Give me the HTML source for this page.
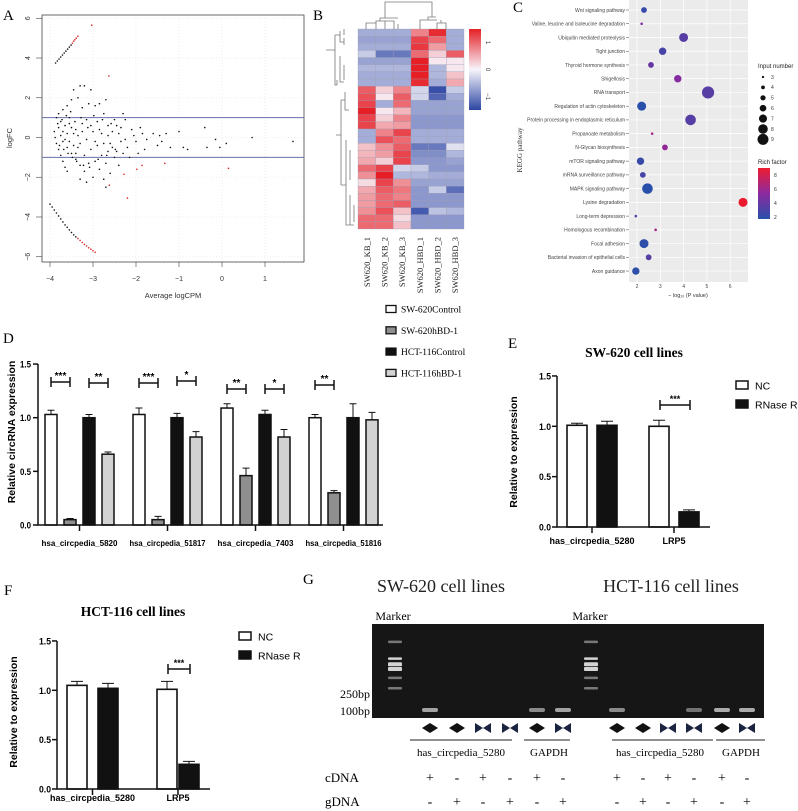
<!DOCTYPE html>
<html><head><meta charset="utf-8"><style>
html,body{margin:0;padding:0;background:#fff;}
svg{display:block;font-family:"Liberation Sans",Arial,sans-serif;}
.serif{font-family:"Liberation Serif","Times New Roman",serif;}
</style></head><body>
<svg id="fig" width="798" height="811" viewBox="0 0 798 811" xmlns="http://www.w3.org/2000/svg">
<g id="gA"></g>
<g id="gB"></g>
<g id="gC"></g>
<g id="gD"></g>
<g id="gE"></g>
<g id="gF"></g>
<g id="gG"></g>
</svg>
<script>
// ---------- Panel A data ----------
const maX = [-3.87,-3.83,-3.79,-3.75,-3.71,-3.67,-3.63,-3.59,-3.55,-3.51,-3.48,-3.45,-3.42,-3.39,-3.35,-3.03,-2.63,
-4.0,-3.95,-3.9,-3.85,-3.8,-3.75,-3.7,-3.65,-3.6,-3.55,-3.5,-3.45,-3.4,-3.35,-3.3,-3.25,-3.2,-3.15,-3.1,-3.05,-3.0,-2.95,
-3.9,-3.88,-3.85,-3.8,-3.75,-3.7,-3.65,-3.6,-3.8,-3.75,-3.7,-3.6,-3.5,-3.4,-3.3,-3.2,
-3.85,-3.8,-3.75,-3.7,-3.65,-3.6,-3.55,-3.5,-3.45,-3.4,-3.35,-3.3,-3.25,-3.2,-3.15,-3.1,-3.05,-3.0,-2.95,-2.9,-2.85,-2.8,-2.75,-2.7,-2.65,-2.6,-2.5,-2.4,-2.3,-2.2,-2.1,-2.0,-1.9,-1.8,-1.6,-1.5,-1.4,-1.3,-1.2,-1.0,-0.9,-0.8,-0.4,-0.35,-0.15,-0.05,0.1,0.7,1.65,
-3.6,-3.55,-3.5,-3.45,-3.4,-3.35,-3.3,-3.25,-3.2,-3.15,-3.1,-3.05,-3.0,-2.95,-2.9,-2.85,-2.8,-2.75,-2.7,-2.65,-2.6,-2.55,-2.5,-2.45,-2.4,-2.35,-2.3,-2.25,-2.15,-3.15,-3.3,-2.7,
-3.7,-3.65,-3.55,-3.45,-3.35,-3.25,-3.05,-2.95,-2.85,-2.75,-2.65,-2.55,-2.45,-2.35,-2.25,-2.05,-1.95,-1.85,-1.75,-1.45,
-3.82,-3.78,-3.72,-3.68,-3.62,-3.58,-3.52,-3.48,-3.42,-3.38,-3.28,-3.22,-3.12,-3.08,-2.98,-2.88,-2.78,-2.68,-2.58,-2.48,
-2.62,-2.2,-2.28,-1.98,-1.86,-1.33,0.15];
const maY = [3.75,3.85,3.95,4.05,4.15,4.25,4.35,4.45,4.55,4.65,4.75,4.85,4.92,5.0,5.1,5.65,3.1,
-3.35,-3.5,-3.65,-3.8,-3.95,-4.1,-4.25,-4.4,-4.52,-4.65,-4.78,-4.9,-5.0,-5.08,-5.18,-5.28,-5.38,-5.46,-5.55,-5.62,-5.7,-5.77,
0.3,0,-0.3,-0.6,-0.9,-1.2,-1.5,-1.7,0.5,0.1,-0.2,-0.5,-0.8,-1.1,-1.4,-1.7,
1.0,1.2,0.8,1.4,0.6,1.6,1.0,1.9,2.4,0.4,2.0,2.6,1.5,2.6,0.9,1.7,2.4,0.3,1.6,0.8,1.7,0.2,1.2,1.9,0.6,-0.3,0.9,0.2,1.2,-0.5,0.4,-0.2,0.5,-0.6,0.2,-0.4,-0.2,0.2,-0.5,0.3,-0.5,-0.6,0.5,-0.5,-0.1,-0.5,-0.3,0,-0.2,
0.2,-0.2,0.5,-0.4,-0.8,0.1,-0.3,0.7,-0.9,-0.1,-1.3,-0.6,-2.0,-1.2,-0.4,-1.6,-0.9,-2.1,-1.3,-0.7,-1.8,-0.5,-1.0,0.6,-1.4,-0.2,-0.8,0.9,-1.0,-2.25,-2.1,-2.5,
0.3,-0.1,0.7,0.2,-0.5,0.3,0.6,-0.2,0.4,-0.3,0.1,0.3,-0.7,0.5,-0.1,0.1,-0.8,0.2,-0.1,0.1,
0.7,-0.4,0.9,-0.6,1.1,-0.8,1.3,-1.0,0.8,-1.2,1.0,-1.4,0.5,-1.5,1.1,-1.1,0.9,-0.9,0.7,-0.6,
-2.4,-3.05,-1.85,-1.6,-1.4,-1.3,-1.55];
const maRed = [0,0,0,0,0,0,0,0,0,0,1,1,1,1,1,1,1, 0,0,0,0,0,0,0,0,0,0,0,0,0,1,1,1,1,1,1,1,1,1];
const maXTicks = [-4,-3,-2,-1,0,1];
const maYTicks = [-6,-4,-2,0,2,4,6];
const maThresholds = [1,-1];

// ---------- Panel B data ----------
const hmCols = ["SW620_KB_1","SW620_KB_2","SW620_KB_3","SW620_HBD_1","SW620_HBD_2","SW620_HBD_3"];
const hmValues = [
[-0.7,-0.7,-0.7,0.9,1.6,-0.7],[-0.8,-0.8,-0.8,1.4,1.1,-0.7],[-0.7,-0.7,-0.7,1.5,0.7,-0.7],[-0.4,-1.2,-1.2,1.1,0.3,1.2],
[-0.8,-0.8,-0.8,1.7,0.1,0.1],[-0.6,-0.6,-0.6,1.7,-0.6,0.1],[-0.7,-0.7,-0.7,1.7,-0.6,0.4],[-0.7,-0.7,-0.7,1.6,-0.7,0.6],
[1.2,0.3,0.9,-0.3,-1.6,-0.4],[1.3,0.1,1.2,-0.3,-1.4,-0.7],[1.4,-0.7,1.1,-0.8,-0.8,-0.8],[1.7,0.1,0.5,-0.8,-0.8,-0.8],
[1.4,0.3,0.9,-0.9,-0.9,-0.9],[1.4,0.6,0.7,-0.9,-0.9,-0.9],[-0.7,0.9,1.4,-0.7,-0.7,-0.7],[-0.7,1.3,1.1,-0.7,-0.7,-0.7],
[0.4,0.8,1.2,-1.2,-1.2,-0.2],[0.5,0.7,1.4,-1.0,-1.0,-0.6],[0.6,0.3,1.4,-0.9,-0.9,-0.8],[1.1,1.4,-0.3,-0.4,-0.9,-0.9],
[0.8,1.7,-0.6,-0.6,-0.7,-0.7],[0.2,1.4,0.8,-0.8,-0.8,-0.8],[0.6,1.2,1.0,-0.9,-0.4,-1.3],[0.7,1.1,0.9,-0.9,-0.9,-0.9],
[0.7,1.1,1.2,-0.9,-0.9,-0.9],[0.8,1.3,0.4,-1.5,-0.5,-0.6],[1.1,1.1,0.2,-0.9,-0.9,-0.9],[1.1,1.1,0.4,-0.9,-0.9,-0.9]];
const hmLegendTicks = [1,0,-1];

// ---------- Panel C data ----------
const keggPathways = ["Wnt signaling pathway","Valine, leucine and isoleucine degradation","Ubiquitin mediated proteolysis","Tight junction","Thyroid hormone synthesis","Shigellosis","RNA transport","Regulation of actin cytoskeleton","Protein processing in endoplasmic reticulum","Propanoate metabolism","N-Glycan biosynthesis","mTOR signaling pathway","mRNA surveillance pathway","MAPK signaling pathway","Lysine degradation","Long-term depression","Homologous recombination","Focal adhesion","Bacterial invasion of epithelial cells","Axon guidance"];
const keggP = [2.3,2.2,4.0,3.1,2.6,3.75,5.05,2.2,4.3,2.65,3.2,2.15,2.25,2.45,6.55,1.95,2.8,2.3,2.5,1.95];
const keggCount = [5,3,7,6,5,6,9,7,8,3,5,6,5,8,7,3,3,7,5,6];
const keggRich = [2.5,5,3.5,3,4,5,3.5,2,3.5,6,5.5,2.5,3,2,8.5,3.5,6,2.2,3.5,2.2];
const keggXTicks = [2,3,4,5,6];
const keggSizeLegend = [3,4,5,6,7,8,9];
const keggRichTicks = [8,6,4,2];

// ---------- Panel D data ----------
const dGenes = ["hsa_circpedia_5820","hsa_circpedia_51817","hsa_circpedia_7403","hsa_circpedia_51816"];
const dSeries = ["SW-620Control","SW-620hBD-1","HCT-116Control","HCT-116hBD-1"];
const dMeans = [[1.03,0.05,1.0,0.66],[1.03,0.05,1.0,0.82],[1.09,0.46,1.03,0.82],[1.0,0.30,1.0,0.98]];
const dErr = [[0.04,0.01,0.03,0.02],[0.06,0.03,0.04,0.05],[0.04,0.07,0.04,0.07],[0.03,0.02,0.13,0.07]];
const dSig = [["***","**"],["***","*"],["**","*"],["**",""]];
const dYTicks = [0,0.5,1.0,1.5];

// ---------- Panel E/F data ----------
const efGenes = ["has_circpedia_5280","LRP5"];
const efSeries = ["NC","RNase R"];
const eMeans = [[1.01,1.01],[1.0,0.15]];
const eErr = [[0.02,0.04],[0.06,0.02]];
const fMeans = [[1.05,1.02],[1.01,0.25]];
const fErr = [[0.04,0.05],[0.08,0.03]];
const efYTicks = [0,0.5,1.0,1.5];

// ---------- Panel G data ----------
const gCdna = ["+","-","+","-","+","-"];
const gGdna = ["-","+","-","+","-","+"];
const gPrimer = ["d","d","b","b","d","b"];
const gMarkerBands = [0.17,0.38,0.44,0.50,0.62,0.75];
const gLaneBands = [[0.9,0,0,0,0.6,0.9],[0.6,0,0,0.3,1.0,1.0]];

const NS="http://www.w3.org/2000/svg";
function el(parent, tag, attrs, text){
  const e=document.createElementNS(NS,tag);
  for(const k in attrs) e.setAttribute(k,attrs[k]);
  if(text!==undefined) e.textContent=text;
  parent.appendChild(e); return e;
}
function fmt(v){return v.toFixed(1);}

// ================= Panel A =================
(function(){
  const g=document.getElementById('gA');
  const ax=v=>222+43*v, ay=v=>137.5-19.87*v;
  let t=el(g,'text',{x:3,y:20,'font-size':15,class:'serif'},'A');
   
  for(const v of maXTicks){let l=el(g,'line',{x1:ax(v),x2:ax(v),y1:15,y2:262,stroke:'#eee','stroke-dasharray':'1,2'});}
  for(const v of maYTicks){let l=el(g,'line',{x1:42,x2:304,y1:ay(v),y2:ay(v),stroke:'#eee','stroke-dasharray':'1,2'});}
  let box=el(g,'rect',{x:42,y:15,width:262,height:247,fill:'none',stroke:'#444','stroke-width':0.8});
   
  for(const v of maThresholds){let l=el(g,'line',{x1:42,x2:304,y1:ay(v),y2:ay(v),stroke:'#6670a8','stroke-width':1});}
  for(let i=0;i<maX.length;i++){
    const red=maRed[i]===1 || i>=maX.length-7;
    let c=el(g,'circle',{cx:ax(maX[i]),cy:ay(maY[i]),r:0.8,fill:red?'#e02020':'#111'});
     
  }
  for(const v of maXTicks){
    let l=el(g,'line',{x1:ax(v),x2:ax(v),y1:262,y2:267,stroke:'#444','stroke-width':0.6});
    let tt=el(g,'text',{x:ax(v),y:281,'font-size':7,'text-anchor':'middle',fill:'#333'},v<0?'\u2212'+(-v):String(v));
  }
  for(const v of maYTicks){
    let l=el(g,'line',{x1:36,x2:42,y1:ay(v),y2:ay(v),stroke:'#444','stroke-width':0.6});
    let tt=el(g,'text',{x:30,y:ay(v),'font-size':7,'text-anchor':'middle',fill:'#333',transform:`rotate(-90 30 ${ay(v)})`},v<0?'\u2212'+(-v):String(v));
  }
  let xl=el(g,'text',{x:173,y:298,'font-size':7.5,'text-anchor':'middle',fill:'#333'},'Average logCPM');
  let yl=el(g,'text',{x:12,y:138,'font-size':7.5,'text-anchor':'middle',fill:'#333',transform:'rotate(-90 12 138)'},'logFC');
})();

// ================= Panel B =================
(function(){
  const g=document.getElementById('gB');
  const x0=358,y0=29,cw=106/6,rh=200/hmValues.length;
  let t=el(g,'text',{x:313,y:20,'font-size':15,class:'serif'},'B');
  function col(v){
    const a=Math.min(1,Math.abs(v)/1.7);
    const w=[247,245,250], b=[45,70,165], r=[230,30,38];
    const tgt=v<0?b:r;
    return `rgb(${Math.round(w[0]+(tgt[0]-w[0])*a)},${Math.round(w[1]+(tgt[1]-w[1])*a)},${Math.round(w[2]+(tgt[2]-w[2])*a)})`;
  }
  for(let i=0;i<hmValues.length;i++)for(let j=0;j<6;j++){
    let r=el(g,'rect',{x:x0+j*cw,y:y0+i*rh,width:cw,height:rh,fill:col(hmValues[i][j]),stroke:'#9a9ab0','stroke-width':0.3});
    
  }
  for(let j=0;j<6;j++){
    const cx=x0+(j+0.5)*cw;
    let tt=el(g,'text',{x:cx+3,y:237,'font-size':8.5,class:'serif','text-anchor':'end',fill:'#222',transform:`rotate(-90 ${cx+3} 237)`},hmCols[j]);
    
  }
  // dendrograms
  const dp='M367,29 V23 H384 V29 M376,29 V23 M393,29 V22 H393 M384,23 V21 H402 M402,29 V21 M376,23 V21 H384 M384,21 V18 H393 M393,22 V18 M419,29 V20 H437 V29 M446,29 V22 H437 M437,22 V20 M428,20 V17 H441 M441,22 V17 M380,18 V2 H432 V17';
  let d1=el(g,'path',{d:'M366,29 V23 H376 V29 M376,23 V21 H394 V29 M385,29 V21 M385,21 V21 M380,21 V18 H398 M398,29 V24 M420,29 V20 H437 M437,29 V23 H446 V29 M441,23 V20 M428,20 V17 H436 M385,18 V2 H432 V17',fill:'none',stroke:'#777','stroke-width':0.8});
  
  let d2=el(g,'path',{d:'M326,50 H335 M335,35 V85 H337 M335,35 H340 M340,31 V42 H344 M344,29 V35 M344,38 V45 M337,85 V80 M340,56 V82 H344 M344,65 V80 M336,135 H341 M341,100 V185 M341,100 H345 M345,92 V110 H349 M341,185 H346 M346,140 V225 H350 M350,150 V180 M350,195 V225 H354 M354,205 V222',fill:'none',stroke:'#777','stroke-width':0.8});
  
  // color bar
  const grad=el(g,'defs',{});
  const lg=el(grad,'linearGradient',{id:'hmgrad',x1:0,y1:0,x2:0,y2:1});
  el(lg,'stop',{offset:'0','stop-color':'#e41f26'});el(lg,'stop',{offset:'0.5','stop-color':'#f7f5fb'});el(lg,'stop',{offset:'1','stop-color':'#2d46a3'});
  let cb=el(g,'rect',{x:469,y:29,width:12,height:81,fill:'url(#hmgrad)'});
  for(const v of hmLegendTicks){
    const y=69.5-v*27;
    let tt=el(g,'text',{x:486,y:y,'font-size':6,'text-anchor':'middle',fill:'#333',transform:`rotate(90 486 ${y})`},v<0?'\u2212'+(-v):String(v));
    
  }
})();

// ================= Panel C =================
(function(){
  const g=document.getElementById('gC');
  const px=v=>637+(v-2)*23.3, py=i=>10+i*13.74;
  let t=el(g,'text',{x:513,y:12,'font-size':15,class:'serif'},'C');
  let bg=el(g,'rect',{x:629,y:0,width:119,height:282,fill:'#ebebeb'});
  for(const v of keggXTicks){let l=el(g,'line',{x1:px(v),x2:px(v),y1:0,y2:282,stroke:'#fff','stroke-width':0.7});}
  for(let i=0;i<keggPathways.length;i++){
    let l=el(g,'line',{x1:629,x2:748,y1:py(i),y2:py(i),stroke:'#fff','stroke-width':0.7});
    let tk=el(g,'line',{x1:626,x2:629,y1:py(i),y2:py(i),stroke:'#444','stroke-width':0.5});
    let tt=el(g,'text',{x:625,y:py(i)+1.8,'font-size':5,'text-anchor':'end',fill:'#444'},keggPathways[i]);
  }
  function rc(v){const a=Math.max(0,Math.min(1,(v-2)/6.5));
    const s=[40,80,170],m=[140,40,160],e=[235,25,45];
    let c;if(a<0.5){const b=a*2;c=s.map((x,k)=>x+(m[k]-x)*b);}else{const b=(a-0.5)*2;c=m.map((x,k)=>x+(e[k]-x)*b);}
    return `rgb(${c.map(Math.round).join(',')})`;}
  const rr=n=>1.3+(n-3)*0.8;
  for(let i=0;i<keggPathways.length;i++){
    let c=el(g,'circle',{cx:px(keggP[i]),cy:py(i),r:rr(keggCount[i]),fill:rc(keggRich[i])});
    
  }
  for(const v of keggXTicks){
    let tt=el(g,'text',{x:px(v),y:288,'font-size':5,'text-anchor':'middle',fill:'#444'},String(v));
  }
  let xl=el(g,'text',{x:688,y:297,'font-size':5.5,'text-anchor':'middle',fill:'#333'},'\u2212 log\u2081\u2080 (P value)');
  let yl=el(g,'text',{x:522,y:150,'font-size':7,class:'serif','text-anchor':'middle',fill:'#333',transform:'rotate(-90 522 150)'},'KEGG pathway');
  let lt=el(g,'text',{x:758,y:68,'font-size':6,fill:'#222'},'Input number');
  keggSizeLegend.forEach((n,k)=>{const y=77+k*10.4;
    let c=el(g,'circle',{cx:763,cy:y,r:rr(n)*0.9,fill:'#111'});
    let tt=el(g,'text',{x:771,y:y+1.8,'font-size':5,fill:'#333'},String(n));});
  let rt=el(g,'text',{x:758,y:164,'font-size':6,fill:'#222'},'Rich factor');
  const d=el(g,'defs',{});const lg=el(d,'linearGradient',{id:'rfgrad',x1:0,y1:0,x2:0,y2:1});
  el(lg,'stop',{offset:'0','stop-color':'#ee1c30'});el(lg,'stop',{offset:'0.5','stop-color':'#8c2aa0'});el(lg,'stop',{offset:'1','stop-color':'#2850aa'});
  let cb=el(g,'rect',{x:758,y:168,width:12,height:51,fill:'url(#rfgrad)'});
  for(const v of keggRichTicks){const y=217-(v-2)*7;
    let tt=el(g,'text',{x:774,y:y+1.8,'font-size':5,fill:'#333'},String(v));}
})();

// ================= Bar helper =================
function errBar(g,cx,yTop,yBot,w){
  let p=el(g,'path',{d:`M${cx},${yBot} V${yTop} M${cx-w},${yTop} H${cx+w} M${cx-w},${yBot} H${cx+w}`,stroke:'#111','stroke-width':1,fill:'none'});
  
}
function bracket(g,x1,x2,y,label,fs){
  let p=el(g,'path',{d:`M${x1},${y-5} V${y+5} M${x1},${y} H${x2} M${x2},${y-5} V${y+5}`,stroke:'#111','stroke-width':1.5,fill:'none'});
  
  let t=el(g,'text',{x:(x1+x2)/2,y:y-3,'font-size':fs,'font-weight':'bold','text-anchor':'middle'},label);
  
}

// ================= Panel D =================
(function(){
  const g=document.getElementById('gD');
  const y0=525,k=107.3,yv=v=>y0-v*k;
  const gStart=[45,133,221,309],off=[0,19,38,57],bw=12;
  const fills=['#fff','#8f8f8f','#111','#d2d2d2'];
  let t=el(g,'text',{x:3,y:343,'font-size':15,class:'serif'},'D');
  dSeries.forEach((s,k2)=>{const y=309+k2*21.3;
    let r=el(g,'rect',{x:386,y:y-3.5,width:10,height:7,fill:fills[k2],stroke:'#111','stroke-width':1.3});
    let tt=el(g,'text',{x:401,y:y+3.5,'font-size':9.5,class:'serif'},s);});
  for(let i=0;i<dGenes.length;i++){
    for(let j=0;j<4;j++){
      const x=gStart[i]+off[j],v=dMeans[i][j],e=dErr[i][j];
      errBar(g,x+bw/2,yv(v+e),yv(v-e),3.5);
      let r=el(g,'rect',{x:x,y:yv(v),width:bw,height:y0-yv(v),fill:fills[j],stroke:'#111','stroke-width':1.5});
      
    }
    const top=Math.max(dMeans[i][0]+dErr[i][0],dMeans[i][1]+dErr[i][1]);
    bracket(g,gStart[i]+6,gStart[i]+25,(i===2?389:i===3?385:i===1?383:382)+0,dSig[i][0],10);
    if(dSig[i][1])bracket(g,gStart[i]+44,gStart[i]+63,i===2?389:i===1?381:383,dSig[i][1],10);
    const cx=gStart[i]+34.5;
    let tk=el(g,'line',{x1:cx,x2:cx,y1:y0,y2:y0+6,stroke:'#111','stroke-width':1.5});
    let tt=el(g,'text',{x:cx,y:546,'font-size':8.5,'font-weight':'bold','text-anchor':'middle',textLength:76,lengthAdjust:'spacingAndGlyphs'},dGenes[i]);
  }
  let ax=el(g,'path',{d:`M38,${yv(1.5)} V${y0} H383`,stroke:'#111','stroke-width':1.5,fill:'none'});
  for(const v of dYTicks){
    let l=el(g,'line',{x1:33,x2:38,y1:yv(v),y2:yv(v),stroke:'#111','stroke-width':1.5});
    let tt=el(g,'text',{x:31,y:yv(v)+3.5,'font-size':9,'font-weight':'bold','text-anchor':'end',textLength:11,lengthAdjust:'spacingAndGlyphs'},fmt(v));
  }
  let yl=el(g,'text',{x:15,y:432,'font-size':10.5,'font-weight':'bold','text-anchor':'middle',transform:'rotate(-90 15 432)'},'Relative circRNA expression');
})();

// ================= Panel E/F =================
function efPanel(gid,letter,lx,ly,title,tx,ty,axX,y0,k,bars,means,errs,axEnd,legX,legY,xlabY,ylx,yly,brY,labels){
  const g=document.getElementById(gid);
  const yv=v=>y0-v*k;
  let t=el(g,'text',{x:lx,y:ly,'font-size':15,class:'serif'},letter);
  let ti=el(g,'text',{x:tx,y:ty,'font-size':13.5,'font-weight':'bold',class:'serif','text-anchor':'middle'},title);
  const fills=['#fff','#111'];
  efSeries.forEach((s,j)=>{const y=legY+j*19;
    let r=el(g,'rect',{x:legX,y:y-4,width:12,height:8,fill:fills[j],stroke:'#111','stroke-width':1.5});
    let tt=el(g,'text',{x:legX+19,y:y+4.5,'font-size':10.5},s);});
  for(let i=0;i<2;i++)for(let j=0;j<2;j++){
    const x=bars[i][j],v=means[i][j],e=errs[i][j];
    errBar(g,x+10,yv(v+e),yv(v-e),6);
    let r=el(g,'rect',{x:x,y:yv(v),width:20,height:y0-yv(v),fill:fills[j],stroke:'#111','stroke-width':1.6});
    
  }
  bracket(g,bars[1][0]+11,bars[1][1]+11,brY,'***',9);
  let ax=el(g,'path',{d:`M${axX},${yv(1.5)} V${y0} H${axEnd}`,stroke:'#111','stroke-width':1.5,fill:'none'});
  for(const v of efYTicks){
    let l=el(g,'line',{x1:axX-5,x2:axX,y1:yv(v),y2:yv(v),stroke:'#111','stroke-width':1.5});
    let tt=el(g,'text',{x:axX-6,y:yv(v)+3.5,'font-size':9,'font-weight':'bold','text-anchor':'end',textLength:12,lengthAdjust:'spacingAndGlyphs'},fmt(v));
  }
  for(let i=0;i<2;i++){
    const cx=(bars[i][0]+bars[i][1]+20)/2;
    let tk=el(g,'line',{x1:cx,x2:cx,y1:y0,y2:y0+6,stroke:'#111','stroke-width':1.5});
    let tt=el(g,'text',{x:cx,y:xlabY,'font-size':9,'font-weight':'bold','text-anchor':'middle'},efGenes[i]);
  }
  let yl=el(g,'text',{x:ylx,y:yly,'font-size':10.5,'font-weight':'bold','text-anchor':'middle',transform:`rotate(-90 ${ylx} ${yly})`},'Relative to expression');
}
efPanel('gE','E',508,348,'SW-620 cell lines',634,357,557,527,100.7,[[567,597],[649,679]],eMeans,eErr,710,736,385,544,517,452,405);
efPanel('gF','F',4,595,'HCT-116 cell lines',133,616,57,789,98.7,[[67,98],[157,179]],fMeans,fErr,210,239,636,801,17,712,669);

// ================= Panel G =================
(function(){
  const g=document.getElementById('gG');
  let t=el(g,'text',{x:303,y:584,'font-size':15,class:'serif'},'G');
  let t1=el(g,'text',{x:441,y:592,'font-size':18,class:'serif','text-anchor':'middle',fill:'#222'},'SW-620 cell lines');
  let t2=el(g,'text',{x:671,y:592,'font-size':18,class:'serif','text-anchor':'middle',fill:'#222'},'HCT-116 cell lines');
  [[393,620],[590,620]].forEach(p=>{let m=el(g,'text',{x:p[0],y:p[1],'font-size':12,class:'serif','text-anchor':'middle'},'Marker');});
  let gel=el(g,'rect',{x:372,y:624,width:392,height:94,fill:'#161616'});
  [[383,624+94],[579,624+94]].forEach(p=>{
    gMarkerBands.forEach((f,k)=>{
      let b=el(g,'rect',{x:p[0]+5,y:627+f*80,width:14,height:k>=2&&k<=3?4:2.5,fill:k>=1&&k<=3?'#e8e8e8':'#bbb',opacity:k>=1&&k<=3?0.9:0.6,rx:1});
      });
  });
  const lanesL=[430,457,483,510,537,563],lanesR=[617,643,668,694,722,747];
  [lanesL,lanesR].forEach((lanes,s)=>{
    lanes.forEach((x,i)=>{
      const a=gLaneBands[s][i];
      if(a>0){let b=el(g,'rect',{x:x-8,y:708,width:16,height:4,fill:'#ddd',opacity:0.35+a*0.4,rx:2});}
      let sym;
      if(gPrimer[i]==='d') sym=el(g,'path',{d:`M${x-8},${728} L${x},${723} L${x+8},${728} L${x},${733} Z`,fill:'#111'});
      else sym=el(g,'path',{d:`M${x-8},${723} L${x},${728} L${x-8},${733} Z M${x+8},${723} L${x},${728} L${x+8},${733} Z`,fill:'#1a2340'});
      
      let c=el(g,'text',{x:x,y:782,'font-size':14,class:'serif','text-anchor':'middle'},gCdna[i]);
      let d=el(g,'text',{x:x,y:806,'font-size':14,class:'serif','text-anchor':'middle'},gGdna[i]);
    });
  });
  let sl=el(g,'path',{d:'M410,740 H512 M524,740 H570 M612,740 H713 M716,740 H765',stroke:'#222','stroke-width':1});
  [[461,'has_circpedia_5280'],[549,'GAPDH'],[660,'has_circpedia_5280'],[741,'GAPDH']].forEach(p=>{
    let tt=el(g,'text',{x:p[0],y:756,'font-size':11,class:'serif','text-anchor':'middle'},p[1]);});
  let b1=el(g,'text',{x:370,y:698,'font-size':12,class:'serif','text-anchor':'end'},'250bp');
  let b2=el(g,'text',{x:370,y:715,'font-size':12,class:'serif','text-anchor':'end'},'100bp');
  let c=el(g,'text',{x:325,y:782,'font-size':13,class:'serif'},'cDNA');
  let d=el(g,'text',{x:325,y:806,'font-size':13,class:'serif'},'gDNA');
})();
</script>
</body></html>
